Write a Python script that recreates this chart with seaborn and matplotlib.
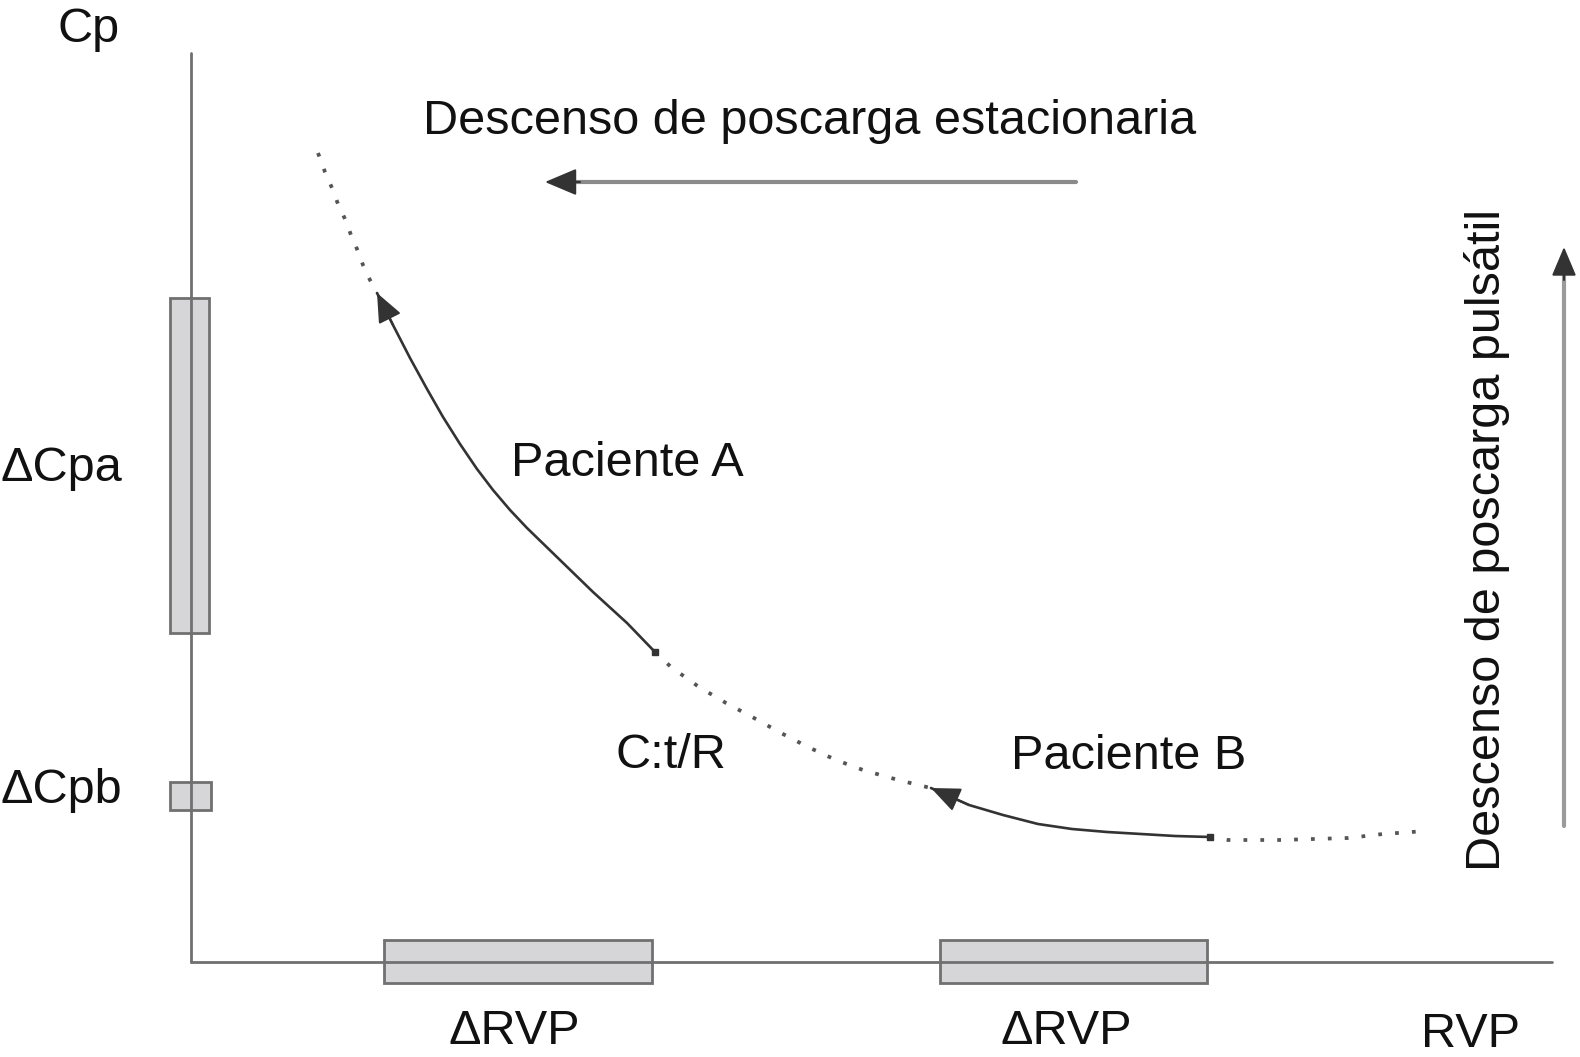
import matplotlib
matplotlib.use("Agg")
import matplotlib.pyplot as plt
from matplotlib.patches import Rectangle
import seaborn as sns
import pandas as pd

sns.set_theme(style="white")
plt.rcParams['font.family'] = ['Liberation Sans', 'DejaVu Sans']

# ---- data (diagram coordinates) ----
curve_x = [318, 325, 332, 338, 345, 351, 357, 363, 370, 377,
           393, 410, 427, 443, 460, 477, 493, 510, 527, 560, 593, 627, 655,
           671, 699, 726, 754, 781, 808, 836, 863, 891, 918, 931,
           969, 1003, 1038, 1072, 1107, 1141, 1175, 1210,
           1228, 1279, 1348, 1383, 1426]
curve_y = [153, 172, 188, 204, 219, 235, 249, 265, 280, 293,
           325, 358, 389, 417, 444, 469, 490, 510, 528, 560, 592, 623, 652,
           667, 687, 703, 718, 733, 747, 760, 770, 778, 785, 788,
           805, 815, 824, 829, 832, 834, 836, 837,
           840, 840, 838, 834, 831]
# segment boundaries: dotted / solid(A) / dotted / solid(B) / dotted
idx_tip_a, idx_start_a, idx_tip_b, idx_start_b = 9, 22, 33, 41

# range boxes: (x0, x1, y0, y1)
box_x0 = [170, 170, 384, 940]
box_x1 = [209, 211, 652, 1207]
box_y0 = [298, 782, 940, 940]
box_y1 = [633, 810, 983, 983]

texts = ["Cp", "Descenso de poscarga estacionaria", "ΔCpa", "ΔCpb", "Paciente A",
         "C:t/R", "Paciente B", "ΔRVP", "ΔRVP", "RVP"]
text_x = [58, 423, 0, 0, 511, 615, 1011, 448, 1001, 1421]
text_y = [42, 134, 481, 803, 476, 768, 769, 1044, 1044, 1047]
vert_text = "Descenso de poscarga pulsátil"

# ---- figure ----
fig = plt.figure(figsize=(15.8, 10.57), dpi=100)
ax = fig.add_axes([0, 0, 1, 1])
ax.set_xlim(0, 1580)
ax.set_ylim(1057, 0)
ax.axis('off')

df = pd.DataFrame({"x": curve_x, "y": curve_y})
dot_style = dict(color="#555555", lw=2.7, linestyle=(0, (1, 3.5)))
solid_style = dict(color="#333333", lw=1.9)

segs = [(0, idx_tip_a, dot_style),
        (idx_tip_a, idx_start_a, solid_style),
        (idx_start_a, idx_tip_b, dot_style),
        (idx_tip_b, idx_start_b, solid_style),
        (idx_start_b, len(curve_x) - 1, dot_style)]
for i0, i1, st in segs:
    sub = df.iloc[i0:i1 + 1]
    sns.lineplot(data=sub, x="x", y="y", sort=False, ax=ax, legend=False, zorder=3, **st)

# end dots of solid segments
ax.plot([curve_x[idx_start_a], curve_x[idx_start_b]],
        [curve_y[idx_start_a], curve_y[idx_start_b]], 's', color="#333333", ms=4.5, zorder=4)

head = '-|>,head_length=0.9,head_width=0.38'
# curve arrowheads
for tip, back in [(idx_tip_a, idx_tip_a + 1), (idx_tip_b, idx_tip_b + 1)]:
    ax.annotate('', xy=(curve_x[tip], curve_y[tip]), xytext=(curve_x[back], curve_y[back]),
                arrowprops=dict(arrowstyle=head, mutation_scale=20, color="#333333",
                                lw=1.5, shrinkA=0, shrinkB=0), zorder=5)

# boxes
for x0, x1, y0, y1 in zip(box_x0, box_x1, box_y0, box_y1):
    ax.add_patch(Rectangle((x0, y0), x1 - x0, y1 - y0, facecolor="#d6d6d8",
                           edgecolor="#707070", lw=2.0, zorder=1))

# axes lines
ax.plot([191, 191], [53, 962], color="#707070", lw=2.0, zorder=2)
ax.plot([191, 1552], [962, 962], color="#707070", lw=2.0, zorder=2)

# top horizontal arrow
ax.plot([1076, 565], [182, 182], color="#8a8a8a", lw=3.0, zorder=2)
ax.annotate('', xy=(545, 182), xytext=(580, 182),
            arrowprops=dict(arrowstyle=head, mutation_scale=22, color="#333333",
                            lw=1.5, shrinkA=0, shrinkB=0), zorder=5)

# right vertical arrow
ax.plot([1564, 1564], [826, 265], color="#9a9a9a", lw=3.0, zorder=2)
ax.annotate('', xy=(1564, 247), xytext=(1564, 280),
            arrowprops=dict(arrowstyle=head, mutation_scale=20, color="#333333",
                            lw=1.5, shrinkA=0, shrinkB=0), zorder=5)

# texts
for s, x, y in zip(texts, text_x, text_y):
    ax.text(x, y, s, fontsize=35, color="#111111", ha='left', va='baseline')
ax.text(1487, 540, vert_text, fontsize=35, color="#111111", rotation=90,
        ha='center', va='center')

fig.savefig("out.png", dpi=100, facecolor="white")
